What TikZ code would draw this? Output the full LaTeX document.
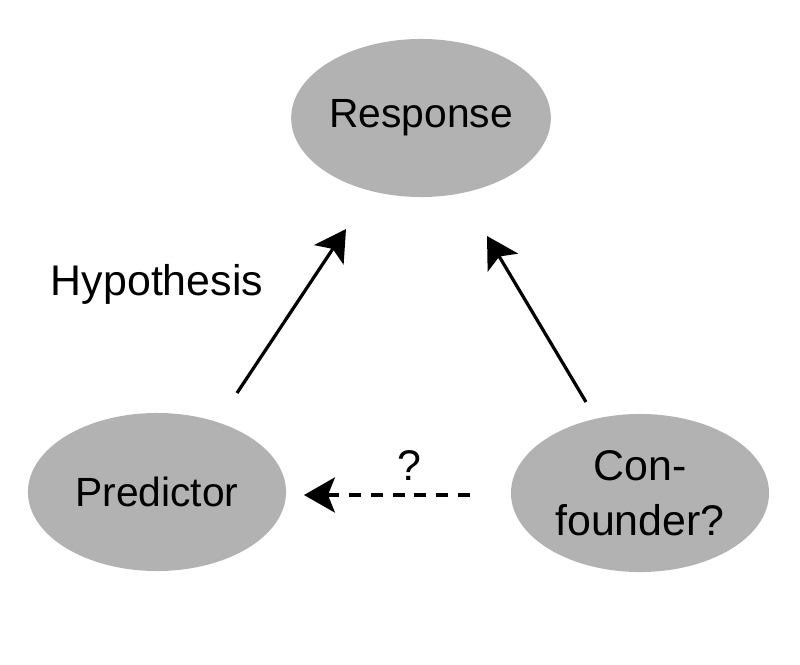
\documentclass[tikz,border=0pt]{standalone}
\usepackage{fontspec}
\setmainfont{Liberation Sans}
\usetikzlibrary{arrows.meta,shapes.geometric}

\begin{document}
\begin{tikzpicture}[x=0.025cm,y=-0.025cm]
\tikzset{var/.style={ellipse,fill=black!30,inner sep=0pt,minimum width=6.45cm,minimum height=3.95cm,font=\fontsize{29}{39}\selectfont,align=center}}
\tikzset{link/.style={line width=2.3pt,-{Stealth[length=22pt,width=25pt,inset=5pt]}}}
\tikzset{lbl/.style={font=\fontsize{30.5}{39}\selectfont}}

\useasboundingbox (0,0) rectangle (800,664);

\node[var] (resp) at (421,118) {Response};
\node[var] (pred) at (157,492) {Predictor};
\node[var,font=\fontsize{30.5}{39}\selectfont] (conf) at (640,493) {Con-\\founder?};

\coordinate (p1) at (237,393);
\coordinate (p2) at (346,229);
\coordinate (c1) at (586,402);
\coordinate (c2) at (487,236);
\coordinate (d1) at (470,495);
\coordinate (d2) at (304,495);

\draw[link] (p1) -- (p2);
\draw[link] (c1) -- (c2);
\draw[link,dash pattern=on 8.5pt off 7pt] (d1) -- (d2);

\node[lbl] (hyp) at (157,284) {Hypothesis};
\node[lbl] (q) at (409,466) {?};

\end{tikzpicture}
\end{document}
